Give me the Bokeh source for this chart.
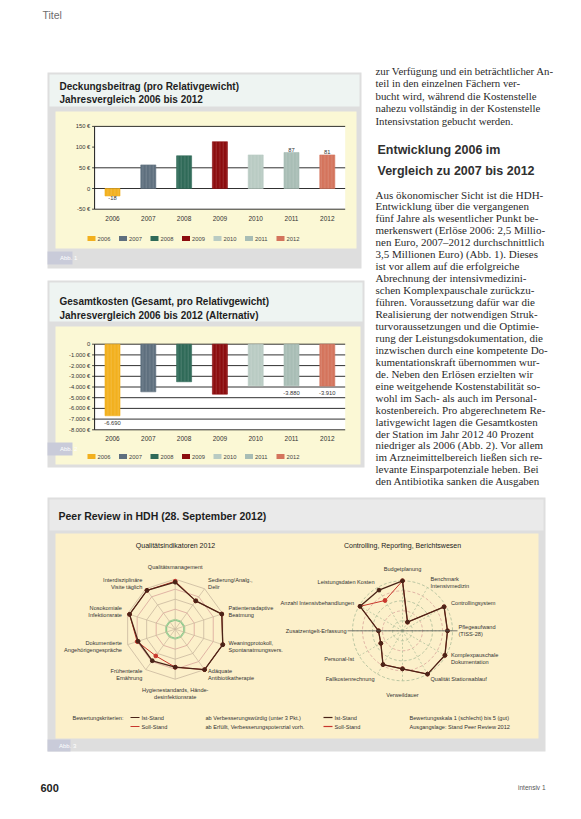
import numpy as np
from bokeh.plotting import figure
from bokeh.models import Range1d, ColumnDataSource
from bokeh.core.properties import value
from bokeh.embed import file_html
from bokeh.resources import INLINE

# ---------------- data ----------------
years = ["2006", "2007", "2008", "2009", "2010", "2011", "2012"]
bar_colors = ["#F2B01E", "#5E6F7E", "#2F6A58", "#8C0C0E", "#B9CBC3", "#A8BDB5", "#D4745C"]

db_values = [-18, 57, 79, 113, 81, 87, 81]
db_labels = ["-18", "", "", "", "", "87", "81"]
db_ticks = [150, 100, 50, 0, -50]
db_tick_labels = ["150 €", "100 €", "50 €", "0", "-50 €"]
db_grid = [150, 50, 0, -50]

gk_values = [-6690, -4450, -3510, -4670, -3890, -3880, -3910]
gk_labels = ["-6.690", "", "", "", "", "-3.880", "-3.910"]
gk_ticks = [0, -1000, -2000, -3000, -4000, -5000, -6000, -7000, -8000]
gk_tick_labels = ["0", "-1.000 €", "-2.000 €", "-3.000 €", "-4.000 €",
                  "-5.000 €", "-6.000 €", "-7.000 €", "-8.000 €"]

q_labels = ["Qualitätsmanagement", "Sedierung/Analg.,\nDelir", "Patientenadaptive\nBeatmung",
            "Weaningprotokoll,\nSpontanatmungsvers.", "Adäquate\nAntibiotikatherapie",
            "Hygienestandards, Hände-\ndesinfektionsrate", "Frühenterale\nErnährung",
            "Dokumentierte\nAngehörigengespräche", "Nosokomiale\nInfektionsrate",
            "Interdisziplinäre\nVisite täglich"]
q_ist = [4.7, 3.5, 4.9, 5.0, 5.0, 3.8, 3.9, 3.9, 4.8, 4.8]
q_soll = [4.8, 3.5, 4.9, 5.0, 5.0, 3.8, 3.3, 4.0, 4.8, 4.8]

c_labels = ["Budgetplanung", "Benchmark\nIntensivmedizin", "Controllingsystem",
            "Pflegeaufwand\n(TISS-28)", "Komplexpauschale\nDokumentation", "Qualität Stationsablauf",
            "Verweildauer", "Fallkostenrechnung", "Personal-Ist", "Zusatzentgelt-Erfassung",
            "Anzahl Intensivbehandlungen", "Leistungsdaten Kosten"]
c_ist = [5.0, 1.0, 4.8, 4.5, 4.9, 5.0, 3.8, 3.9, 2.5, 2.4, 4.9, 4.7]
c_soll = [5.0, 1.0, 4.8, 4.5, 4.9, 5.0, 3.8, 3.9, 2.5, 2.4, 4.9, 3.5]

col_top = ["zur Verfügung und ein beträchtlicher An-",
           "teil in den einzelnen Fächern ver-",
           "bucht wird, während die Kostenstelle",
           "nahezu vollständig in der Kostenstelle",
           "Intensivstation gebucht werden."]
col_head = ["Entwicklung 2006 im", "Vergleich zu 2007 bis 2012"]
col_body = ["Aus ökonomischer Sicht ist die HDH-",
            "Entwicklung über die vergangenen",
            "fünf Jahre als wesentlicher Punkt be-",
            "merkenswert (Erlöse 2006: 2,5 Millio-",
            "nen Euro, 2007–2012 durchschnittlich",
            "3,5 Millionen Euro) (Abb. 1). Dieses",
            "ist vor allem auf die erfolgreiche",
            "Abrechnung der intensivmedizini-",
            "schen Komplexpauschale zurückzu-",
            "führen. Voraussetzung dafür war die",
            "Realisierung der notwendigen Struk-",
            "turvoraussetzungen und die Optimie-",
            "rung der Leistungsdokumentation, die",
            "inzwischen durch eine kompetente Do-",
            "kumentationskraft übernommen wur-",
            "de. Neben den Erlösen erzielten wir",
            "eine weitgehende Kostenstabilität so-",
            "wohl im Sach- als auch im Personal-",
            "kostenbereich. Pro abgerechnetem Re-",
            "lativgewicht lagen die Gesamtkosten",
            "der Station im Jahr 2012 40 Prozent",
            "niedriger als 2006 (Abb. 2). Vor allem",
            "im Arzneimittelbereich ließen sich re-",
            "levante Einsparpotenziale heben. Bei",
            "den Antibiotika sanken die Ausgaben"]

# ---------------- page figure (coordinates = screen pixels) ----------------
W, H = 565, 803
X0, Y0 = 8, 8
p = figure(width=W, height=H, x_range=Range1d(X0, X0 + W), y_range=Range1d(Y0 + H, Y0),
           output_backend="svg", toolbar_location=None, min_border=0)
p.xaxis.visible = False
p.yaxis.visible = False
p.xgrid.visible = False
p.ygrid.visible = False
p.outline_line_color = None
p.background_fill_color = "white"
p.border_fill_color = "white"


def lin_x(origin, k):
    return Range1d((X0 - origin) / k, (X0 + W - origin) / k)


def lin_y(origin, k):
    # value increases upwards; origin = pixel y of value 0
    return Range1d((origin - (Y0 + H)) / k, (origin - Y0) / k)


BAR_X0, BAR_DX = 120.0, 35.8
p.extra_x_ranges = {
    "bx": lin_x(BAR_X0, BAR_DX),
    "qx": lin_x(182.7, 10.0),
    "cx": lin_x(410.0, 10.0),
}
p.extra_y_ranges = {
    "db": lin_y(196.0, 20.7 / 50.0),
    "gk": lin_y(351.7, 10.7 / 1000.0),
    "qy": lin_y(636.7, 10.0),
    "cy": lin_y(638.3, 10.0),
}


def T(xs, ys, texts, size=6.0, color="#222222", font="Liberation Sans", style="normal",
      align="left", baseline="middle", xr=None, yr=None):
    src = ColumnDataSource(dict(x=list(xs), y=list(ys), t=list(texts)))
    kw = {}
    if xr:
        kw["x_range_name"] = xr
    if yr:
        kw["y_range_name"] = yr
    p.text(x="x", y="y", text="t", source=src, text_font=value(font),
           text_font_size=f"{size}px", text_color=color, text_font_style=style,
           text_align=align, text_baseline=baseline, **kw)


def box(l, r, t, b, color, **kw):
    p.quad(left=[l], right=[r], top=[t], bottom=[b], fill_color=color, line_color=None, **kw)


# ---------------- page header / footer ----------------
T([50], [22], ["Titel"], size=10.5, color="#6d6d6d")
T([48], [795], ["600"], size=11, style="bold", color="#222222")
T([553], [795], ["intensiv 1"], size=6.5, color="#555555", align="right")

# ---------------- panels ----------------
ABB = "#c9cbd9"
# panel 1
box(55, 369, 80, 276, "#dedede")
box(57, 367, 82, 114, "#eef4f2")
box(63, 364, 119, 256, "#fbf8d5")
box(55, 80, 259, 272, ABB)
T([67.5], [265.5], ["Abb. 1"], size=6, color="white")
T([67, 67], [94, 107], ["Deckungsbeitrag (pro Relativgewicht)", "Jahresvergleich 2006 bis 2012"],
  size=10, style="bold", color="#1e1e1e")
# panel 2
box(55, 372, 288, 475, "#dedede")
box(57, 370, 290, 329, "#eef4f2")
box(63, 368, 334, 472, "#fbf8d5")
box(55, 80, 450, 463, ABB)
T([67.5], [456.5], ["Abb. 2"], size=6, color="white")
T([67, 67], [309, 323], ["Gesamtkosten (Gesamt, pro Relativgewicht)",
                         "Jahresvergleich 2006 bis 2012 (Alternativ)"],
  size=10, style="bold", color="#1e1e1e")
# panel 3
box(55, 553, 505, 759, "#dedede")
box(57, 551, 507, 538, "#eaeaea")
box(63, 546, 541, 746, "#fcf0ca")
box(55, 78, 747, 759, ABB)
T([66.5], [753], ["Abb. 3"], size=6, color="white")
T([66], [523], ["Peer Review in HDH (28. September 2012)"], size=10.5, style="bold", color="#1e1e1e")

# ---------------- right text column ----------------
T([383] * len(col_top), [78 + 12.5 * i for i in range(len(col_top))], col_top,
  size=10.8, font="Liberation Serif", color="#2a2a2a")
T([385, 385], [157, 178], col_head, size=12.5, style="bold", color="#303030")
T([383] * len(col_body), [202 + 11.95 * i for i in range(len(col_body))], col_body,
  size=11, font="Liberation Serif", color="#2a2a2a")

# ---------------- bar chart helpers ----------------
idx = list(range(len(years)))


def bar_chart(vals, labels, ticks, tick_labels, grid, yname, vmin, vmax, label_off,
              label_baseline, year_y, legend_y, hatch):
    # white plot area
    p.quad(left=[-0.5], right=[6.5], top=[vmax], bottom=[vmin], fill_color="white",
           line_color=None, x_range_name="bx", y_range_name=yname)
    p.segment(x0=[-0.5] * len(grid), x1=[6.5] * len(grid), y0=grid, y1=grid,
              line_color="#1a1a1a", line_width=0.9, x_range_name="bx", y_range_name=yname)
    # axis line + ticks
    p.segment(x0=[-0.5], x1=[-0.5], y0=[vmin], y1=[vmax], line_color="#1a1a1a",
              line_width=1, x_range_name="bx", y_range_name=yname)
    p.segment(x0=[-0.57] * len(ticks), x1=[-0.5] * len(ticks), y0=ticks, y1=ticks,
              line_color="#1a1a1a", line_width=0.8, x_range_name="bx", y_range_name=yname)
    T([-0.62] * len(ticks), ticks, tick_labels, size=5.8, color="#333333", align="right",
      xr="bx", yr=yname)
    # bars
    src = ColumnDataSource(dict(x=idx, top=vals, c=bar_colors))
    p.vbar(x="x", top="top", bottom=0, width=0.42, fill_color="c", line_color="c",
           line_width=0.6, source=src, x_range_name="bx", y_range_name=yname,
           hatch_pattern="vertical_line" if hatch else None, hatch_color="white",
           hatch_alpha=0.18, hatch_scale=3.5, hatch_weight=0.8)
    ly = [v + label_off if v >= 0 else v - label_off for v in vals]
    T(idx, ly, labels, size=5.8, color="#333333", align="center", baseline=label_baseline,
      xr="bx", yr=yname)
    # x labels
    T(idx, [year_y] * len(idx), years, size=6.5, color="#333333", align="center", xr="bx")
    # legend
    lx = [95 + 31.5 * i for i in idx]
    p.quad(left=lx, right=[x + 8 for x in lx], top=[legend_y - 2.5] * 7,
           bottom=[legend_y + 2.5] * 7, fill_color=bar_colors, line_color=None)
    T([x + 10 for x in lx], [legend_y] * 7, years, size=5.8, color="#444444")


bar_chart(db_values, db_labels, db_ticks, db_tick_labels, db_grid, "db", -50, 150,
          6, "middle", 226, 246, True)
bar_chart(gk_values, gk_labels, gk_ticks, gk_tick_labels, gk_ticks, "gk", -8000, 0,
          650, "middle", 446, 464, True)

# ---------------- radar charts ----------------
def radar(vals_ist, vals_soll, labels, xr, yr, circles, ring_cols, spoke_col, inner_green):
    n = len(labels)
    ang = np.arange(n) * 2 * np.pi / n
    # rings
    for lev, col in zip(range(1, 6), ring_cols):
        if circles:
            a = np.linspace(0, 2 * np.pi, 97)
            p.line(lev * np.sin(a), lev * np.cos(a), line_color=col, line_width=0.8,
                   line_dash="3 2", x_range_name=xr, y_range_name=yr)
        else:
            a = np.append(ang, ang[0])
            p.line(lev * np.sin(a), lev * np.cos(a), line_color=col, line_width=0.8,
                   x_range_name=xr, y_range_name=yr)
    if inner_green:
        a = np.append(ang, ang[0])
        p.line(0.9 * np.sin(a), 0.9 * np.cos(a), line_color="#8cc88c", line_width=1.2,
               x_range_name=xr, y_range_name=yr)
    # spokes
    p.segment(x0=[0] * n, y0=[0] * n, x1=list(5 * np.sin(ang)), y1=list(5 * np.cos(ang)),
              line_color=spoke_col, line_width=0.7, line_dash="2 2" if circles else "solid",
              x_range_name=xr, y_range_name=yr)
    # series
    for vals, col, lw in ((vals_soll, "#c8372d", 1.0), (vals_ist, "#4a2418", 1.3)):
        v = np.array(vals)
        xs = np.append(v * np.sin(ang), v[0] * np.sin(ang[0]))
        ys = np.append(v * np.cos(ang), v[0] * np.cos(ang[0]))
        p.line(xs, ys, line_color=col, line_width=lw, x_range_name=xr, y_range_name=yr)
        p.scatter(v * np.sin(ang), v * np.cos(ang), size=3.8, fill_color=col, line_color=col,
                  x_range_name=xr, y_range_name=yr)
    # labels
    lxs, lys, aligns = [], [], []
    for a in ang:
        s, c = np.sin(a), np.cos(a)
        r = 5.6
        if c > 0.95:
            r = 6.2
        elif c < -0.95:
            r = 6.4
        lxs.append(r * s)
        lys.append(r * c)
        aligns.append("left" if s > 0.15 else ("right" if s < -0.15 else "center"))
    for al in ("left", "right", "center"):
        sel = [i for i in range(n) if aligns[i] == al]
        T([lxs[i] for i in sel], [lys[i] for i in sel], [labels[i] for i in sel],
          size=5.6, color="#333333", align=al, xr=xr, yr=yr)


radar(q_ist, q_soll, q_labels, "qx", "qy", False,
      ["#8cc88c", "#d9a49a", "#c9b89e", "#d9a49a", "#c9b89e"], "#c9b89e", True)
radar(c_ist, c_soll, c_labels, "cx", "cy", True,
      ["#a9bb98", "#d9a49a", "#a9bb98", "#d9a49a", "#a9bb98"], "#a9bb98", False)

# horizontal axis line through right radar
p.segment(x0=[-5.5], x1=[5.5], y0=[0], y1=[0], line_color="#555555", line_width=0.8,
          x_range_name="cx", y_range_name="cy")

T([183, 410], [553, 553], ["Qualitätsindikatoren 2012", "Controlling, Reporting, Berichtswesen"],
  size=7, color="#222222", align="center")

# radar legends
p.segment(x0=[138, 138, 331, 331], x1=[147, 147, 340, 340], y0=[725, 734, 725, 734],
          y1=[725, 734, 725, 734], line_color=["#4a2418", "#c8372d", "#4a2418", "#c8372d"],
          line_width=1.2)
T([80], [725], ["Bewertungskriterien:"], size=5.6, color="#333333")
T([149, 149, 342, 342], [725, 734, 725, 734], ["Ist-Stand", "Soll-Stand", "Ist-Stand", "Soll-Stand"],
  size=5.6, color="#333333")
T([213, 213], [725, 734], ["ab Verbesserungswürdig (unter 3 Pkt.)",
                           "ab Erfüllt, Verbesserungspotenzial vorh."], size=5.6, color="#333333")
T([417, 417], [725, 734], ["Bewertungsskala 1 (schlecht) bis 5 (gut)",
                           "Ausgangslage: Stand Peer Review 2012"], size=5.6, color="#333333")

open("out.html", "w").write(file_html(p, INLINE))
